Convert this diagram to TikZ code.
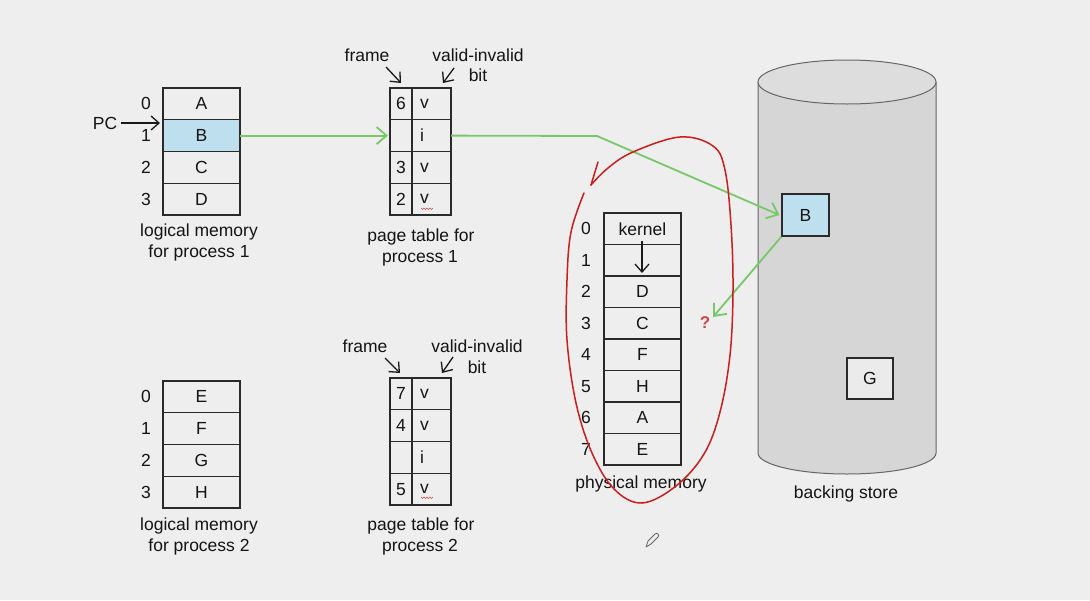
\documentclass[tikz,border=0pt]{standalone}
\usepackage{fontspec}
\setmainfont{Liberation Sans}
\usetikzlibrary{arrows.meta}
\definecolor{bgc}{HTML}{EEEEEE}
\definecolor{boxc}{HTML}{2A2A2A}
\definecolor{hilite}{HTML}{BEDFEE}
\definecolor{grn}{HTML}{78C86A}
\definecolor{redc}{HTML}{C81E1E}
\definecolor{qred}{HTML}{C84A4A}
\definecolor{cylbody}{HTML}{D6D6D6}
\definecolor{cyltop}{HTML}{DDDDDD}
\definecolor{gbox}{HTML}{EBEBEB}
\newcommand\labfont{\fontsize{17.5}{20}\selectfont}
\begin{document}
\begin{tikzpicture}[x=1pt,y=-1pt,
  every node/.style={font=\labfont, text=black!92},
  cell/.style={draw=boxc, line width=1.3pt, minimum width=77pt, minimum height=31.75pt, inner sep=0pt, outer sep=0pt},
  pmcell/.style={cell, minimum height=31.5pt},
  fcell/.style={draw=boxc, line width=1.3pt, minimum width=22pt, minimum height=31.75pt, inner sep=0pt, outer sep=0pt},
  vcell/.style={draw=boxc, line width=1.3pt, minimum height=31.75pt, text width=23pt, inner xsep=8pt, inner ysep=0pt, outer sep=0pt, align=left},
  idx/.style={inner sep=0pt},
  lbl/.style={inner sep=0pt},
  garrow/.style={draw=grn, line width=1.8pt, -{Straight Barb[length=10pt,width=17pt]}},
  karrow/.style={draw=black!90, line width=1.3pt, -{Straight Barb[length=8pt,width=14pt]}},
  squig/.style={draw=redc!80, line width=0.6pt},
]
\useasboundingbox (0,0) rectangle (1090,600);
\fill[bgc] (0,0) rectangle (1090,600);

% ---------- backing store cylinder ----------
\fill[cylbody] (758,82) -- (758,453) arc[start angle=180, end angle=360, x radius=89pt, y radius=21pt] -- (936,82) -- cycle;
\draw[black!60, line width=1pt] (758,82) -- (758,453) arc[start angle=180, end angle=360, x radius=89pt, y radius=21pt] -- (936,82);
\filldraw[fill=cyltop, draw=black!60, line width=1pt] (847,82) ellipse [x radius=89pt, y radius=22pt];
\node[lbl] (bslbl) at (846,494) {backing store};
\node[draw=boxc, line width=1.3pt, fill=hilite, minimum width=47pt, minimum height=42pt, inner sep=0pt] (bsB) at (805.5,215) {B};
\node[draw=boxc, line width=1.3pt, fill=gbox, minimum width=46pt, minimum height=41pt, inner sep=0pt] (bsG) at (870,378.5) {G};

% ---------- logical memory 1 ----------
\node[cell] (l1a) at (201.5,103.9) {A};
\node[cell, fill=hilite] (l1b) at (201.5,135.6) {B};
\node[cell] (l1c) at (201.5,167.4) {C};
\node[cell] (l1d) at (201.5,199.1) {D};
\node[idx] (l1i0) at (146,103.9) {0};
\node[idx] (l1i1) at (146,135.6) {1};
\node[idx] (l1i2) at (146,167.4) {2};
\node[idx] (l1i3) at (146,199.1) {3};
\node[lbl] (l1t1) at (199,232) {logical memory};
\node[lbl] (l1t2) at (199,253) {for process 1};
\node[lbl] (pc) at (105,123) {PC};
\coordinate (pcend) at (160,123);
\draw[karrow] (pc.east) ++(4,0) -- (pcend);

% ---------- page table 1 ----------
\node[fcell] (p1f0) at (401,103.9) {6};
\node[fcell] (p1f1) at (401,135.6) {};
\node[fcell] (p1f2) at (401,167.4) {3};
\node[fcell] (p1f3) at (401,199.1) {2};
\node[vcell] (p1v0) at (431.5,103.9) {v};
\node[vcell] (p1v1) at (431.5,135.6) {i};
\node[vcell] (p1v2) at (431.5,167.4) {v};
\node[vcell] (p1v3) at (431.5,199.1) {v};
\node[lbl] (p1t1) at (421,237) {page table for};
\node[lbl] (p1t2) at (420,258) {process 1};
\node[lbl] (p1fr) at (367,55) {frame};
\node[lbl] (p1vi) at (478,55) {valid-invalid};
\node[lbl] (p1bit) at (478,75) {bit};
\coordinate (p1fa) at (386,67); \coordinate (p1fb) at (401,83);
\coordinate (p1va) at (454,68); \coordinate (p1vb) at (443,83);
\draw[karrow] (p1fa) -- (p1fb);
\draw[karrow] (p1va) -- (p1vb);
\draw[squig] (421,208) -- (422.5,209.5) -- (424,208) -- (425.5,209.5) -- (427,208) -- (428.5,209.5) -- (430,208) -- (431.5,209.5) -- (433,208);

% ---------- logical memory 2 ----------
\node[cell] (l2a) at (201.5,396.9) {E};
\node[cell] (l2b) at (201.5,428.6) {F};
\node[cell] (l2c) at (201.5,460.4) {G};
\node[cell] (l2d) at (201.5,492.1) {H};
\node[idx] (l2i0) at (146,396.9) {0};
\node[idx] (l2i1) at (146,428.6) {1};
\node[idx] (l2i2) at (146,460.4) {2};
\node[idx] (l2i3) at (146,492.1) {3};
\node[lbl] (l2t1) at (199,526) {logical memory};
\node[lbl] (l2t2) at (199,547) {for process 2};

% ---------- page table 2 ----------
\node[fcell] (p2f0) at (401,393.9) {7};
\node[fcell] (p2f1) at (401,425.6) {4};
\node[fcell] (p2f2) at (401,457.4) {};
\node[fcell] (p2f3) at (401,489.1) {5};
\node[vcell] (p2v0) at (431.5,393.9) {v};
\node[vcell] (p2v1) at (431.5,425.6) {v};
\node[vcell] (p2v2) at (431.5,457.4) {i};
\node[vcell] (p2v3) at (431.5,489.1) {v};
\node[lbl] (p2t1) at (421,526) {page table for};
\node[lbl] (p2t2) at (420,547) {process 2};
\node[lbl] (p2fr) at (365,346) {frame};
\node[lbl] (p2vi) at (477,346) {valid-invalid};
\node[lbl] (p2bit) at (477,367) {bit};
\coordinate (p2fa) at (385,358); \coordinate (p2fb) at (400,373);
\coordinate (p2va) at (453,357); \coordinate (p2vb) at (442,373);
\draw[karrow] (p2fa) -- (p2fb);
\draw[karrow] (p2va) -- (p2vb);
\draw[squig] (421,497) -- (422.5,498.5) -- (424,497) -- (425.5,498.5) -- (427,497) -- (428.5,498.5) -- (430,497) -- (431.5,498.5) -- (433,497);

% ---------- physical memory ----------
\node[pmcell] (m0) at (642.5,228.75) {kernel};
\node[pmcell] (m1) at (642.5,260.25) {};
\node[pmcell] (m2) at (642.5,291.75) {D};
\node[pmcell] (m3) at (642.5,323.25) {C};
\node[pmcell] (m4) at (642.5,354.75) {F};
\node[pmcell] (m5) at (642.5,386.25) {H};
\node[pmcell] (m6) at (642.5,417.75) {A};
\node[pmcell] (m7) at (642.5,449.25) {E};
\foreach \i/\y in {0/228.75,1/260.25,2/291.75,3/323.25,4/354.75,5/386.25,6/417.75,7/449.25}
  \node[idx] (mi\i) at (586,\y) {\i};
\node[lbl] (pmlbl) at (641,484) {physical memory};
\coordinate (kend) at (642,273);
\draw[karrow] (642,241) -- (kend);

% ---------- green arrows ----------
\draw[garrow] (l1b.east) -- ([xshift=-2pt]p1f1.west);
\coordinate (bend) at (597,136);
\draw[garrow] (p1v1.east) -- (bend) -- ([xshift=-2pt]bsB.west);
\node[font=\fontsize{17}{19}\selectfont\bfseries, text=qred, inner sep=0pt] (qm) at (705,323) {?};
\coordinate (qtip) at (713,317);
\draw[garrow] (bsB.south west) -- (qtip);

% ---------- red hand-drawn loop ----------
\draw[redc, line width=1.5pt, line cap=round, line join=round] (598,162) -- (591,185);
\draw[redc, line width=1.5pt, line cap=round] plot[smooth, tension=0.6] coordinates {(591,185) (608,168) (633,152) (680,137) (713,146) (725,170) (731,225) (733,290) (730,355) (720,412) (704,454) (676,486) (642,503) (614,489) (592,453) (576,403) (567,340) (567,280) (571,232) (584,193)};

% ---------- pencil cursor ----------
\draw[black!60, line width=0.8pt, line join=round] (646,547) -- (648,541) -- (655,534) .. controls (657,532) and (660,535) .. (658,537) -- (651,544) -- cycle;
\end{tikzpicture}
\end{document}
